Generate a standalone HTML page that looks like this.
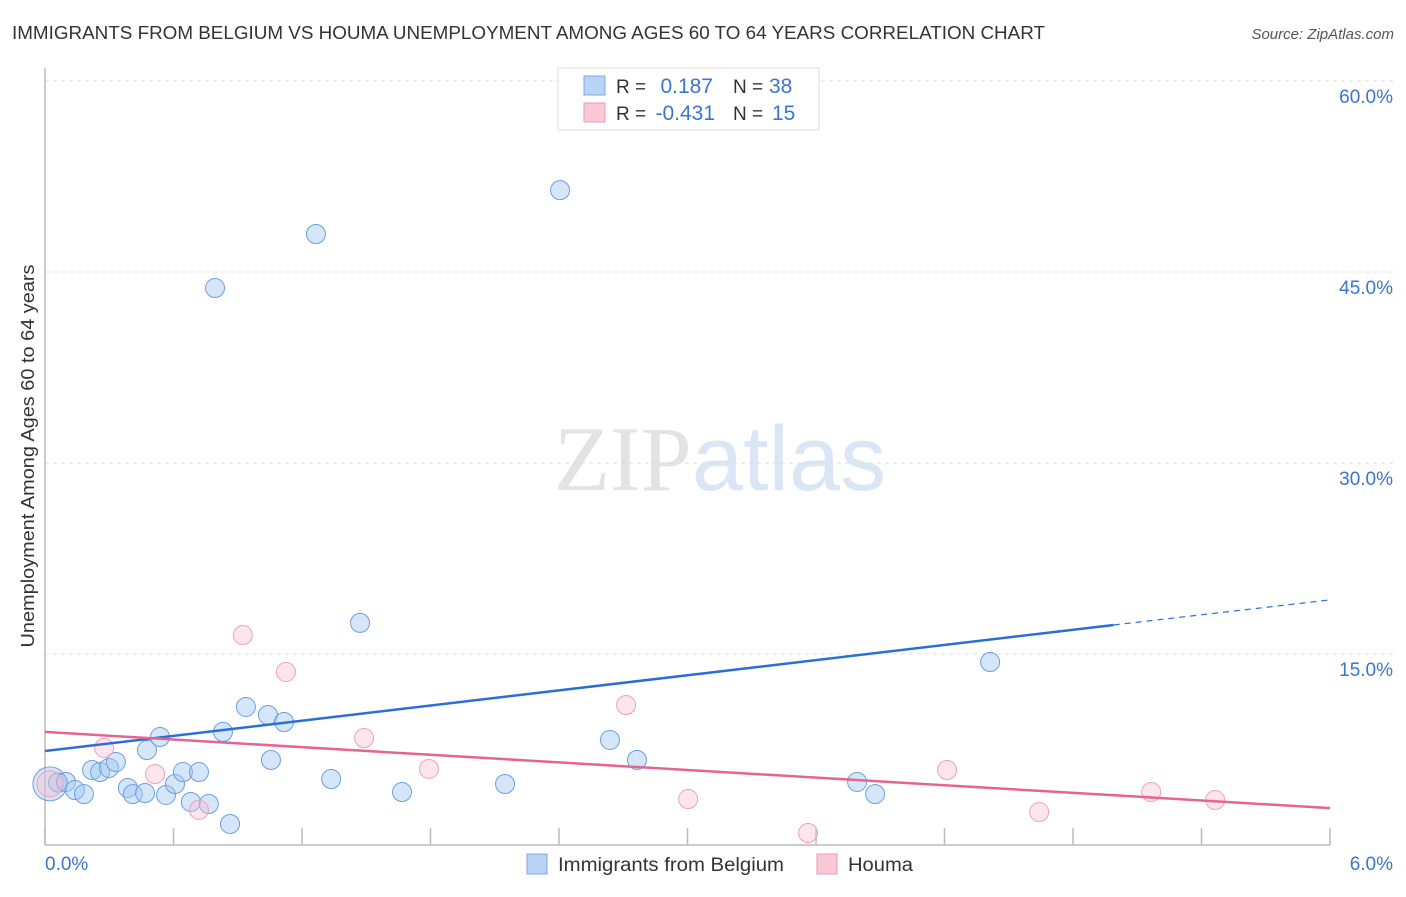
<!DOCTYPE html>
<html><head><meta charset="utf-8">
<style>
body{margin:0;background:#fff;font-family:"Liberation Sans",sans-serif;}
svg text{font-family:"Liberation Sans",sans-serif;}
</style></head>
<body>
<svg id="chart" width="1406" height="892" xmlns="http://www.w3.org/2000/svg">
<text x="12" y="39" font-size="18" fill="#333" textLength="1033" lengthAdjust="spacingAndGlyphs">IMMIGRANTS FROM BELGIUM VS HOUMA UNEMPLOYMENT AMONG AGES 60 TO 64 YEARS CORRELATION CHART</text>
<text x="1394" y="39" font-size="15" fill="#555" text-anchor="end" font-style="italic">Source: ZipAtlas.com</text>
<text x="720" y="490" font-size="92" text-anchor="middle"><tspan fill="#e3e3e3" font-family="Liberation Serif">ZIP</tspan><tspan fill="#dbe6f5">atlas</tspan></text>
<text transform="translate(34,456) rotate(-90)" font-size="18" fill="#333" text-anchor="middle" textLength="383" lengthAdjust="spacingAndGlyphs">Unemployment Among Ages 60 to 64 years</text>
<g id="grid"></g><g id="axes"></g><g id="marks"></g>
<g>
<rect x="558" y="68" width="261" height="62" fill="#fff" stroke="#ddd"/>
<rect x="584" y="76" width="21" height="19" fill="#b9d3f5" stroke="#7aa7e6"/>
<rect x="584" y="103" width="21" height="19" fill="#fbc8d6" stroke="#ef9ab3"/>
<text x="616" y="93" font-size="19" fill="#333">R =</text>
<text x="713" y="93" font-size="21" fill="#3a75d0" text-anchor="end">0.187</text>
<text x="733" y="93" font-size="19" fill="#333">N =</text>
<text x="769" y="93" font-size="21" fill="#3a75d0">38</text>
<text x="616" y="120" font-size="19" fill="#333">R =</text>
<text x="715" y="120" font-size="21" fill="#3a75d0" text-anchor="end">-0.431</text>
<text x="733" y="120" font-size="19" fill="#333">N =</text>
<text x="772" y="120" font-size="21" fill="#3a75d0">15</text>
</g>
<g>
<rect x="527" y="854" width="20" height="20" fill="#b9d3f5" stroke="#7aa7e6"/>
<text x="558" y="871" font-size="19" fill="#333" textLength="226" lengthAdjust="spacingAndGlyphs">Immigrants from Belgium</text>
<rect x="817" y="854" width="20" height="20" fill="#fbc8d6" stroke="#ef9ab3"/>
<text x="848" y="871" font-size="19" fill="#333" textLength="65" lengthAdjust="spacingAndGlyphs">Houma</text>
</g>
</svg>
<script>
const xTicks=[0,0.6,1.2,1.8,2.4,3.0,3.6,4.2,4.8,5.4,6.0];
const yTicks=[15,30,45,60];
const yTickLabels=["15.0%","30.0%","45.0%","60.0%"];
const blueX=[0.023,0.061,0.098,0.14,0.182,0.22,0.257,0.299,0.331,0.387,0.41,0.467,0.476,0.537,0.565,0.607,0.644,0.681,0.719,0.765,0.831,0.864,0.938,1.041,1.116,1.055,1.336,1.471,1.667,2.148,2.638,2.764,3.792,3.876,4.413,0.794,1.265,2.405];
const blueY=[4.8,4.9,4.95,4.32,4.0,5.89,5.73,6.05,6.52,4.48,4.0,4.08,7.46,8.48,3.93,4.79,5.73,3.38,5.73,3.22,8.88,1.65,10.84,10.21,9.66,6.68,5.18,17.44,4.16,4.79,8.25,6.68,4.95,4.0,14.37,43.74,47.98,51.43];
const pinkX=[0.023,0.276,0.514,0.719,0.924,1.125,1.49,1.793,2.713,3.003,3.563,4.212,4.642,5.165,5.464];
const pinkY=[4.8,7.62,5.57,2.75,16.49,13.59,8.4,5.97,10.99,3.61,0.94,5.89,2.59,4.16,3.53];
const blueTrend=[[0,7.38],[4.99,17.28]];
const blueTrendExt=[4.99,6.0,19.25];
const pinkTrend=[[0,8.88],[6.0,2.9]];
const NS="http://www.w3.org/2000/svg";
const X=v=>45+v/6*1285, Y=v=>845-v/15*191;
function mk(p,t,a){const e=document.createElementNS(NS,t);for(const k in a)e.setAttribute(k,a[k]);document.getElementById(p).appendChild(e);return e;}
yTicks.forEach((t,i)=>{
 const g=mk('grid','line',{x1:45,x2:1394,y1:Y(t),y2:Y(t),stroke:'#ddd','stroke-dasharray':'4,4'});
 
 
 const l=mk('axes','text',{x:1393,y:Y(t)+22,'font-size':19,fill:'#3a75d0','text-anchor':'end'});l.textContent=yTickLabels[i];
 
 
});
let a=mk('axes','line',{x1:45,x2:45,y1:68,y2:845,stroke:'#bbb','stroke-width':1.5});


a=mk('axes','line',{x1:45,x2:1330,y1:845,y2:845,stroke:'#bbb','stroke-width':1.5});


xTicks.forEach(t=>{const e=mk('axes','line',{x1:X(t),x2:X(t),y1:828,y2:845,stroke:'#bbb','stroke-width':1.5});
 
 });
let t1=mk('axes','text',{x:45,y:870,'font-size':19,fill:'#3a75d0'});t1.textContent='0.0%';


t1=mk('axes','text',{x:1393,y:870,'font-size':19,fill:'#3a75d0','text-anchor':'end'});t1.textContent='6.0%';


function dot(x,y,r,f,s,name){const c=mk('marks','circle',{cx:X(x),cy:Y(y),r:r,fill:f,stroke:s,'stroke-width':1});
 
 }
blueX.forEach((x,i)=>dot(x,blueY[i],i==0?17:9.5,'rgba(165,199,242,0.45)','#6a9fe2','belgium-point'));
pinkX.forEach((x,i)=>dot(x,pinkY[i],i==0?13:9.5,'rgba(248,190,208,0.4)','#f0a0b8','houma-point'));
let ln=mk('marks','line',{x1:X(blueTrend[0][0]),y1:Y(blueTrend[0][1]),x2:X(blueTrend[1][0]),y2:Y(blueTrend[1][1]),stroke:'#2a6fd6','stroke-width':2.5});


ln=mk('marks','line',{x1:X(blueTrendExt[0]),y1:Y(blueTrend[1][1]),x2:X(blueTrendExt[1]),y2:Y(blueTrendExt[2]),stroke:'#2a6fd6','stroke-width':1.2,'stroke-dasharray':'6,5'});


ln=mk('marks','line',{x1:X(pinkTrend[0][0]),y1:Y(pinkTrend[0][1]),x2:X(pinkTrend[1][0]),y2:Y(pinkTrend[1][1]),stroke:'#e56590','stroke-width':2.5});


</script>
</body></html>
